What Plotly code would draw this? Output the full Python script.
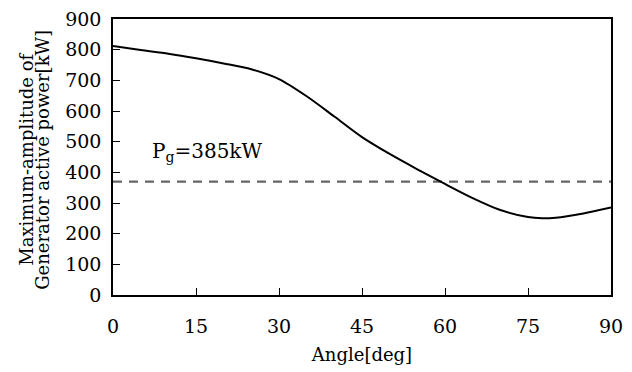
import plotly.graph_objects as go

angle = [0, 5, 10, 15, 20, 25, 30, 35, 40, 45, 50, 55, 60, 65, 70, 75, 77.5, 80, 85, 90]
power = [812, 799, 787, 772, 755, 736, 704, 648, 582, 515, 460, 410, 362, 316, 277, 254, 250, 252, 266, 285]
ref_angle = [0, 90]
ref_power = [370, 370]
x_ticks = [0, 15, 30, 45, 60, 75, 90]
y_ticks = [0, 100, 200, 300, 400, 500, 600, 700, 800, 900]
y_title_lines = ["Maximum-amplitude of", "Generator active power[kW]"]

FONT = "DejaVu Serif"

fig = go.Figure()
fig.add_trace(go.Scatter(x=ref_angle, y=ref_power, mode="lines",
                         line=dict(color="#666666", width=2.2, dash="9px,7px"),
                         showlegend=False, hoverinfo="skip"))
fig.add_trace(go.Scatter(x=angle, y=power, mode="lines",
                         line=dict(color="black", width=2, shape="spline", smoothing=0.8),
                         showlegend=False))

fig.add_annotation(x=6.6, y=466, xref="x", yref="y", xanchor="left", yanchor="middle",
                   text="P<sub>g</sub>=385kW", showarrow=False,
                   font=dict(family=FONT, size=20, color="black"))

for i, line in enumerate(y_title_lines):
    fig.add_annotation(x=0, y=0.49, xref="paper", yref="paper", xanchor="center",
                       yanchor="middle", xshift=-86 + 16 * i, textangle=-90,
                       text=line, showarrow=False,
                       font=dict(family=FONT, size=18, color="black"))

fig.update_xaxes(range=[0, 90], tickvals=x_ticks, ticks="inside", ticklen=7, tickwidth=1,
                 tickcolor="black", showline=True, linecolor="black", linewidth=1.5,
                 mirror=True, showgrid=False, zeroline=False, ticklabelstandoff=13,
                 automargin=False, ticklabeloverflow="allow",
                 tickfont=dict(family=FONT, size=19, color="black"),
                 title=dict(text="Angle[deg]", font=dict(family=FONT, size=18, color="black"),
                            standoff=13))
fig.update_yaxes(range=[0, 900], tickvals=y_ticks, ticks="inside", ticklen=7, tickwidth=1,
                 tickcolor="black", showline=True, linecolor="black", linewidth=1.5,
                 mirror=True, showgrid=False, zeroline=False, ticklabelstandoff=6,
                 automargin=False, ticklabeloverflow="allow",
                 tickfont=dict(family=FONT, size=19, color="black"))

# page body has an 8px margin: shrink the figure so the plot lands where the reference has it
fig.update_layout(width=624, height=364, margin=dict(l=105, r=21, t=11, b=77),
                  paper_bgcolor="white", plot_bgcolor="white")

fig.write_html("out.html")
